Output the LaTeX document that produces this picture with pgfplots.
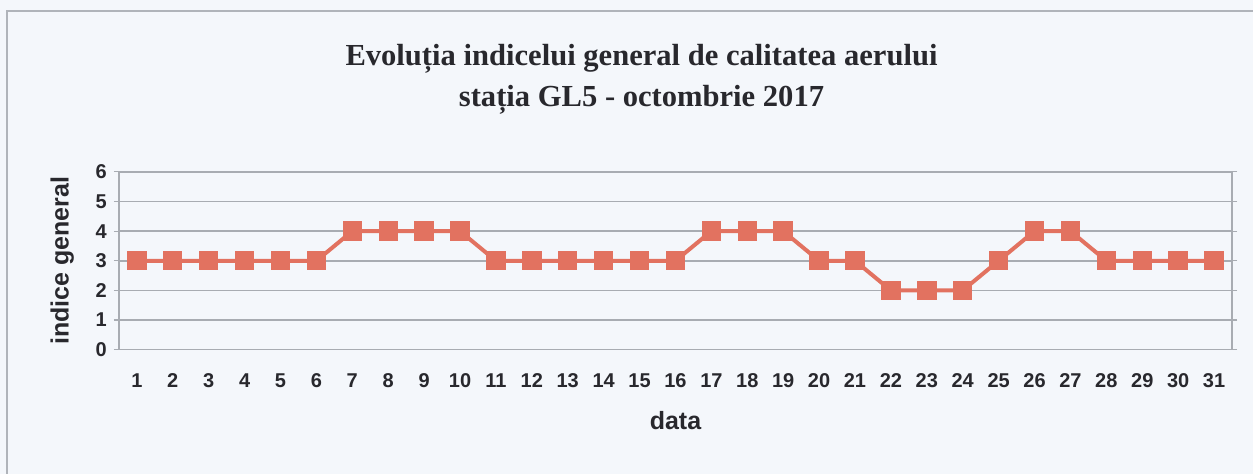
\documentclass[border=0pt]{standalone}
\usepackage{pgfplots}
\pgfplotsset{compat=1.18}
\usepackage{fontspec}
\setmainfont{Liberation Serif}
\newfontfamily\arialfont{Liberation Sans}
\definecolor{bgc}{RGB}{244,247,251}
\definecolor{framec}{RGB}{176,180,186}
\definecolor{gridc}{RGB}{168,172,178}
\definecolor{serc}{RGB}{226,114,96}
\definecolor{txtc}{RGB}{40,40,45}
\pgfplotstableread{
d v
1 3
2 3
3 3
4 3
5 3
6 3
7 4
8 4
9 4
10 4
11 3
12 3
13 3
14 3
15 3
16 3
17 4
18 4
19 4
20 3
21 3
22 2
23 2
24 2
25 3
26 4
27 4
28 3
29 3
30 3
31 3
}\datatable
\begin{document}
\begin{tikzpicture}
\fill[bgc] (0,0) rectangle (627pt,237pt);
\draw[framec, line width=1pt] (3.5pt,0) -- (3.5pt,231.5pt) -- (627pt,231.5pt);
\node[anchor=base, text=txtc, font=\fontsize{15.3pt}{18pt}\selectfont\bfseries] at (321pt,204pt) {Evoluția indicelui general de calitatea aerului};
\node[anchor=base, text=txtc, font=\fontsize{15.3pt}{18pt}\selectfont\bfseries] at (321pt,183.5pt) {stația GL5 - octombrie 2017};
\begin{axis}[
  at={(59.5pt,62pt)}, anchor=south west,
  scale only axis, width=557pt, height=89pt,
  xmin=0.5, xmax=31.5, ymin=0, ymax=6,
  xtick={1,...,31},
  minor xtick={0.5,1.5,...,31.5},
  ytick={0,...,6},
  ymajorgrids,
  major grid style={gridc, line width=0.75pt},
  axis line style={gridc, line width=0.75pt},
  every tick/.style={gridc, line width=0.6pt},
  tick align=outside,
  xtick style={draw=none},
  minor x tick style={gridc, line width=0.6pt},
  minor tick length=2.2pt,
  major tick length=2.5pt,
  tick label style={font=\arialfont\bfseries\fontsize{10pt}{12pt}\selectfont, text=txtc},
  /pgf/number format/assume math mode=true,
  xticklabel style={yshift=-6pt},
  xlabel={data}, ylabel={indice general},
  label style={font=\arialfont\bfseries\fontsize{12.5pt}{14pt}\selectfont, text=txtc},
  xlabel style={yshift=-5pt},
  ylabel style={yshift=4pt},
  clip=false,
]
\addplot[serc, line width=2pt, mark=square*, mark size=4.6pt, mark options={fill=serc, draw=serc, line width=0pt}] table[x=d, y=v] {\datatable};
\end{axis}
\end{tikzpicture}
\end{document}
